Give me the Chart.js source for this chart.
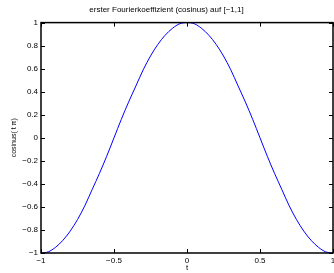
<!DOCTYPE html>
<html>
<head>
<meta charset="utf-8">
<script src="https://cdn.jsdelivr.net/npm/chart.js@4"></script>
<style>
  html, body { margin: 0; padding: 0; background: #fff; }
  #wrap { width: 334px; height: 273px; position: relative; }
</style>
</head>
<body>
<div id="wrap"><canvas id="fourierChart"></canvas></div>
<script>
// values
const tValues = [-1, -0.95, -0.9, -0.85, -0.8, -0.75, -0.7, -0.65, -0.6, -0.55, -0.5,
                 -0.45, -0.4, -0.35, -0.3, -0.25, -0.2, -0.15, -0.1, -0.05, 0,
                 0.05, 0.1, 0.15, 0.2, 0.25, 0.3, 0.35, 0.4, 0.45, 0.5,
                 0.55, 0.6, 0.65, 0.7, 0.75, 0.8, 0.85, 0.9, 0.95, 1];
const cosValues = [-1, -0.99, -0.95, -0.89, -0.81, -0.71, -0.59, -0.45, -0.31, -0.16, 0,
                   0.16, 0.31, 0.45, 0.59, 0.71, 0.81, 0.89, 0.95, 0.99, 1,
                   0.99, 0.95, 0.89, 0.81, 0.71, 0.59, 0.45, 0.31, 0.16, 0,
                   -0.16, -0.31, -0.45, -0.59, -0.71, -0.81, -0.89, -0.95, -0.99, -1];
const xTicks = [-1, -0.5, 0, 0.5, 1];
const yTicks = [-1, -0.8, -0.6, -0.4, -0.2, 0, 0.2, 0.4, 0.6, 0.8, 1];

const titleText = 'erster Fourierkoeffizient (cosinus) auf [\u22121,1]';
const xLabel = 't';
const yLabel = 'cosinus( t \u03c0)';

const fontFamily = '"Liberation Sans", Arial, sans-serif';

// format numbers like MATLAB, with a real minus sign
function fmt(v) {
    const r = Math.round(v * 10) / 10;
    return r < 0 ? '\u2212' + String(-r) : String(r);
}

// inward ticks on all four sides (box style)
const boxTicks = {
    id: 'boxTicks',
    afterDraw(chart) {
        const ctx = chart.ctx;
        const a = chart.chartArea;
        const xs = chart.scales.x, ys = chart.scales.y;
        const len = 4;
        ctx.save();
        ctx.strokeStyle = '#000';
        ctx.lineWidth = 1;
        ctx.beginPath();
        xTicks.forEach(v => {
            const px = Math.round(xs.getPixelForValue(v)) + 0.5;
            ctx.moveTo(px, a.bottom); ctx.lineTo(px, a.bottom - len);
            ctx.moveTo(px, a.top); ctx.lineTo(px, a.top + len);
        });
        yTicks.forEach(v => {
            const py = Math.round(ys.getPixelForValue(v)) + 0.5;
            ctx.moveTo(a.left, py); ctx.lineTo(a.left + len, py);
            ctx.moveTo(a.right, py); ctx.lineTo(a.right - len, py);
        });
        ctx.stroke();
        ctx.lineWidth = 1.5;
        ctx.strokeRect(a.left, a.top, a.right - a.left, a.bottom - a.top);
        ctx.restore();
    }
};

const ctx = document.getElementById('fourierChart').getContext('2d');
new Chart(ctx, {
    type: 'line',
    data: {
        datasets: [{
            data: tValues.map((t, i) => ({ x: t, y: cosValues[i] })),
            borderColor: '#0000ff',
            borderWidth: 1,
            pointRadius: 0,
            fill: false,
            cubicInterpolationMode: 'monotone'
        }]
    },
    options: {
        responsive: true,
        maintainAspectRatio: false,
        animation: false,
        layout: { autoPadding: false, padding: { top: 0, right: 1, bottom: 0, left: 0 } },
        plugins: {
            legend: { display: false },
            tooltip: { enabled: false },
            title: {
                display: true,
                text: titleText,
                color: '#000',
                font: { family: fontFamily, size: 8, weight: 'normal' },
                padding: { top: 5, bottom: 8 }
            }
        },
        scales: {
            x: {
                type: 'linear',
                min: -1,
                max: 1,
                afterBuildTicks: s => { s.ticks = xTicks.map(v => ({ value: v })); },
                afterFit: s => {
                    s.height = 20;
                    s.paddingLeft = 0;
                    s.paddingRight = 0;
                },
                grid: { display: false, drawTicks: false },
                border: { display: false },
                ticks: {
                    color: '#000',
                    padding: 3,
                    maxRotation: 0,
                    font: { family: fontFamily, size: 8 },
                    callback: v => fmt(v)
                },
                title: {
                    display: true,
                    text: xLabel,
                    color: '#000',
                    padding: { top: -2, bottom: 0 },
                    font: { family: fontFamily, size: 8 }
                }
            },
            y: {
                min: -1,
                max: 1,
                afterBuildTicks: s => { s.ticks = yTicks.map(v => ({ value: v })); },
                afterFit: s => {
                    s.width = 41;
                    s.paddingTop = 0;
                    s.paddingBottom = 0;
                },
                grid: { display: false, drawTicks: false },
                border: { display: false },
                ticks: {
                    color: '#000',
                    padding: 3,
                    font: { family: fontFamily, size: 8 },
                    callback: v => fmt(v)
                },
                title: {
                    display: true,
                    text: yLabel,
                    color: '#000',
                    padding: { top: 10, bottom: 0 },
                    font: { family: fontFamily, size: 7 }
                }
            }
        }
    },
    plugins: [boxTicks]
});
</script>
</body>
</html>
